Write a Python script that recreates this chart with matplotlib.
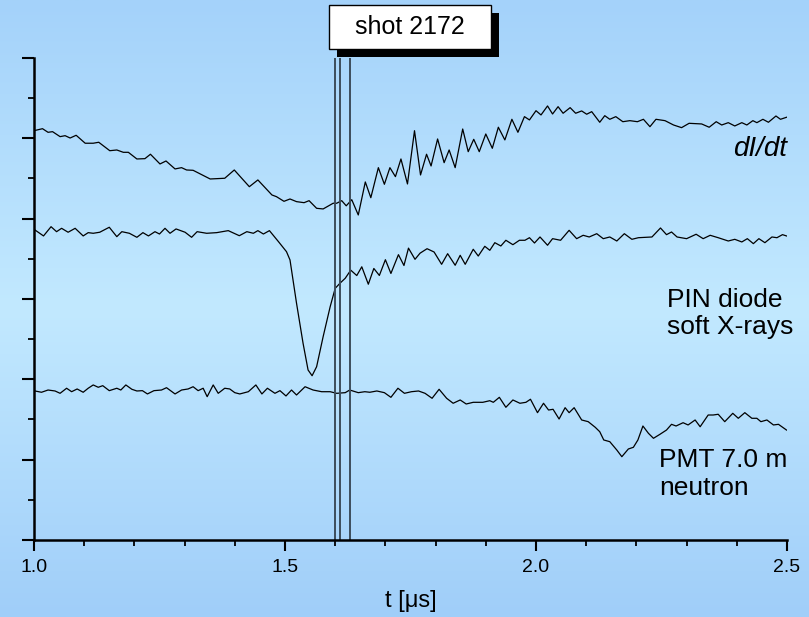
import matplotlib
matplotlib.use("Agg")
from matplotlib import pyplot as plt
from matplotlib.patches import Rectangle
from matplotlib.colors import LinearSegmentedColormap
from matplotlib.ticker import MultipleLocator, FormatStrFormatter
import numpy as np

plt.rcParams["font.family"] = ["Liberation Sans", "DejaVu Sans"]

# dI/dt trace (time in microseconds, signal in axis units)
t_didt = [1.000, 1.017, 1.028, 1.037, 1.052, 1.062, 1.072, 1.084, 1.102, 1.118,
          1.129, 1.151, 1.165, 1.178, 1.188, 1.205, 1.221, 1.232, 1.251, 1.263,
          1.281, 1.294, 1.304, 1.317, 1.351, 1.380, 1.399, 1.429, 1.446, 1.474,
          1.483, 1.498, 1.510, 1.523, 1.538, 1.548, 1.563, 1.576, 1.596, 1.603,
          1.613, 1.622, 1.633, 1.646, 1.660, 1.671, 1.686, 1.698, 1.709, 1.720,
          1.731, 1.744, 1.758, 1.770, 1.782, 1.791, 1.804, 1.817, 1.827, 1.839,
          1.854, 1.865, 1.876, 1.887, 1.900, 1.913, 1.925, 1.938, 1.952, 1.964,
          1.977, 1.987, 2.000, 2.010, 2.023, 2.033, 2.044, 2.054, 2.068, 2.079,
          2.091, 2.101, 2.111, 2.127, 2.137, 2.147, 2.159, 2.173, 2.187, 2.202,
          2.214, 2.227, 2.239, 2.257, 2.274, 2.290, 2.305, 2.330, 2.345, 2.359,
          2.370, 2.383, 2.396, 2.410, 2.420, 2.432, 2.440, 2.452, 2.463, 2.478,
          2.487, 2.499]
y_didt = [5.095, 5.120, 5.075, 5.083, 5.021, 5.033, 5.004, 5.038, 4.939, 4.939,
          4.951, 4.846, 4.855, 4.826, 4.826, 4.743, 4.747, 4.802, 4.681, 4.718,
          4.619, 4.635, 4.606, 4.602, 4.494, 4.503, 4.606, 4.398, 4.482, 4.295,
          4.274, 4.216, 4.245, 4.212, 4.199, 4.224, 4.129, 4.121, 4.192, 4.192,
          4.224, 4.160, 4.236, 4.046, 4.457, 4.261, 4.635, 4.428, 4.635, 4.523,
          4.743, 4.432, 5.095, 4.544, 4.802, 4.656, 4.992, 4.697, 4.855, 4.635,
          5.116, 4.834, 4.988, 4.834, 5.054, 4.876, 5.138, 4.980, 5.237, 5.075,
          5.270, 5.229, 5.344, 5.291, 5.403, 5.303, 5.394, 5.312, 5.382, 5.312,
          5.341, 5.300, 5.332, 5.200, 5.282, 5.237, 5.270, 5.207, 5.220, 5.207,
          5.237, 5.145, 5.237, 5.220, 5.166, 5.133, 5.187, 5.179, 5.138, 5.207,
          5.166, 5.195, 5.154, 5.195, 5.166, 5.220, 5.195, 5.237, 5.200, 5.278,
          5.237, 5.262]

# PIN diode soft X-ray trace
t_pin = [1.002, 1.019, 1.034, 1.045, 1.055, 1.068, 1.082, 1.098, 1.108, 1.118,
         1.131, 1.150, 1.165, 1.175, 1.190, 1.205, 1.217, 1.228, 1.241, 1.250,
         1.261, 1.271, 1.283, 1.301, 1.314, 1.325, 1.344, 1.364, 1.387, 1.409,
         1.424, 1.437, 1.446, 1.457, 1.469, 1.487, 1.503, 1.510, 1.523, 1.536,
         1.546, 1.554, 1.563, 1.576, 1.590, 1.600, 1.610, 1.620, 1.631, 1.643,
         1.653, 1.666, 1.677, 1.688, 1.700, 1.711, 1.726, 1.737, 1.746, 1.759,
         1.769, 1.783, 1.797, 1.812, 1.824, 1.839, 1.849, 1.859, 1.875, 1.885,
         1.898, 1.908, 1.918, 1.930, 1.940, 1.954, 1.967, 1.978, 1.987, 1.997,
         2.008, 2.023, 2.033, 2.049, 2.066, 2.081, 2.094, 2.106, 2.121, 2.134,
         2.147, 2.161, 2.176, 2.191, 2.204, 2.231, 2.248, 2.260, 2.270, 2.281,
         2.300, 2.319, 2.333, 2.347, 2.363, 2.383, 2.396, 2.410, 2.421, 2.433,
         2.444, 2.456, 2.470, 2.480, 2.491, 2.499]
y_pin = [3.859, 3.785, 3.900, 3.838, 3.880, 3.831, 3.880, 3.785, 3.826, 3.818,
         3.831, 3.893, 3.776, 3.838, 3.818, 3.768, 3.826, 3.785, 3.838, 3.809,
         3.880, 3.818, 3.872, 3.831, 3.768, 3.838, 3.818, 3.826, 3.851, 3.788,
         3.838, 3.818, 3.851, 3.809, 3.851, 3.714, 3.589, 3.486, 2.947, 2.449,
         2.116, 2.045, 2.157, 2.531, 2.904, 3.133, 3.199, 3.258, 3.359, 3.292,
         3.401, 3.184, 3.380, 3.293, 3.489, 3.318, 3.552, 3.417, 3.633, 3.494,
         3.570, 3.626, 3.585, 3.432, 3.564, 3.420, 3.544, 3.432, 3.619, 3.535,
         3.656, 3.606, 3.701, 3.660, 3.731, 3.676, 3.731, 3.731, 3.763, 3.697,
         3.772, 3.669, 3.751, 3.731, 3.855, 3.751, 3.793, 3.772, 3.813, 3.751,
         3.772, 3.722, 3.813, 3.743, 3.763, 3.772, 3.884, 3.801, 3.834, 3.772,
         3.751, 3.806, 3.751, 3.793, 3.763, 3.722, 3.743, 3.710, 3.751, 3.689,
         3.751, 3.701, 3.772, 3.763, 3.801, 3.785]

# PMT neutron trace at 7.0 m
t_pmt = [1.002, 1.015, 1.028, 1.042, 1.052, 1.065, 1.075, 1.086, 1.098, 1.108,
         1.118, 1.128, 1.137, 1.150, 1.165, 1.173, 1.183, 1.195, 1.205, 1.216,
         1.226, 1.239, 1.254, 1.264, 1.281, 1.294, 1.307, 1.317, 1.327, 1.337,
         1.345, 1.357, 1.367, 1.380, 1.390, 1.400, 1.410, 1.427, 1.442, 1.454,
         1.465, 1.480, 1.490, 1.502, 1.513, 1.523, 1.540, 1.556, 1.573, 1.590,
         1.603, 1.620, 1.629, 1.646, 1.659, 1.669, 1.683, 1.698, 1.711, 1.725,
         1.738, 1.752, 1.766, 1.779, 1.793, 1.807, 1.822, 1.835, 1.849, 1.861,
         1.875, 1.894, 1.908, 1.915, 1.927, 1.940, 1.954, 1.968, 1.980, 1.989,
         2.003, 2.015, 2.025, 2.034, 2.046, 2.058, 2.066, 2.076, 2.091, 2.104,
         2.118, 2.127, 2.135, 2.147, 2.161, 2.171, 2.184, 2.194, 2.203, 2.213,
         2.224, 2.234, 2.247, 2.260, 2.270, 2.279, 2.293, 2.303, 2.317, 2.327,
         2.343, 2.353, 2.363, 2.376, 2.392, 2.403, 2.416, 2.430, 2.440, 2.448,
         2.460, 2.473, 2.483, 2.499]
y_pmt = [1.855, 1.839, 1.867, 1.855, 1.826, 1.889, 1.846, 1.880, 1.839, 1.889,
         1.930, 1.901, 1.921, 1.859, 1.889, 1.867, 1.930, 1.876, 1.855, 1.859,
         1.818, 1.859, 1.867, 1.896, 1.818, 1.867, 1.880, 1.908, 1.859, 1.889,
         1.784, 1.930, 1.826, 1.889, 1.880, 1.834, 1.818, 1.846, 1.930, 1.818,
         1.889, 1.826, 1.859, 1.793, 1.867, 1.805, 1.908, 1.867, 1.846, 1.846,
         1.826, 1.834, 1.867, 1.834, 1.846, 1.839, 1.855, 1.834, 1.776, 1.889,
         1.826, 1.846, 1.855, 1.826, 1.764, 1.876, 1.764, 1.702, 1.743, 1.693,
         1.714, 1.714, 1.734, 1.714, 1.776, 1.652, 1.743, 1.702, 1.714, 1.752,
         1.585, 1.702, 1.618, 1.627, 1.506, 1.647, 1.585, 1.647, 1.494, 1.473,
         1.403, 1.348, 1.245, 1.224, 1.120, 1.037, 1.133, 1.154, 1.245, 1.419,
         1.328, 1.266, 1.316, 1.369, 1.440, 1.419, 1.460, 1.432, 1.494, 1.410,
         1.556, 1.556, 1.565, 1.473, 1.577, 1.515, 1.585, 1.515, 1.515, 1.473,
         1.494, 1.432, 1.440, 1.369]

# timing markers
markers = [1.600, 1.610, 1.630]

fig = plt.figure(figsize=(8.09, 6.17), dpi=100)

# light blue background, brighter in the middle
bg = fig.add_axes([0, 0, 1, 1], zorder=-10)
cmap = LinearSegmentedColormap.from_list(
    "bgblue", [(0.0, "#a4d2fa"), (0.5, "#c2e9ff"), (1.0, "#a0cef9")])
bg.imshow(np.linspace(0, 1, 256).reshape(-1, 1), aspect="auto", cmap=cmap,
          extent=[0, 1, 0, 1])
bg.set_axis_off()

ax = fig.add_axes([0.042, 0.1248, 0.9308, 0.7812])
ax.set_facecolor("none")

for t, y in [(t_didt, y_didt), (t_pin, y_pin), (t_pmt, y_pmt)]:
    ax.plot(t, y, color="black", lw=0.9, solid_joinstyle="round")
ax.vlines(markers, 0, 6, colors="#3d4d5b", lw=1.4)

ax.set_xlim(1.0, 2.5)
ax.set_ylim(0, 6)
ax.xaxis.set_major_locator(MultipleLocator(0.5))
ax.xaxis.set_minor_locator(MultipleLocator(0.1))
ax.yaxis.set_major_locator(MultipleLocator(1))
ax.yaxis.set_minor_locator(MultipleLocator(0.5))
ax.xaxis.set_major_formatter(FormatStrFormatter("%.1f"))
ax.set_yticklabels([])
ax.tick_params(which="major", length=8, width=1.5, labelsize=14, pad=6)
ax.tick_params(axis="y", which="major", length=9)
ax.tick_params(which="minor", length=4.5, width=1.3)
for side in ["top", "right"]:
    ax.spines[side].set_visible(False)
for side in ["left", "bottom"]:
    ax.spines[side].set_linewidth(1.8)

ax.set_xlabel("t [\u03bcs]", fontsize=17, labelpad=10)

ax.text(2.5, 4.87, "dI/dt", style="italic", fontsize=20, ha="right", va="center")
ax.text(2.26, 2.82, "PIN diode\nsoft X-rays", fontsize=19, ha="left", va="center",
        linespacing=1.2)
ax.text(2.245, 0.82, "PMT 7.0 m\nneutron", fontsize=19, ha="left", va="center",
        linespacing=1.2)

# title box with drop shadow
fig.add_artist(Rectangle((0.4166, 0.9076), 0.2002, 0.0713, transform=fig.transFigure,
                         facecolor="black", edgecolor="none", zorder=5))
fig.add_artist(Rectangle((0.4067, 0.9206), 0.2002, 0.0713, transform=fig.transFigure,
                         facecolor="white", edgecolor="black", lw=1.0, zorder=6))
fig.text(0.5068, 0.9562, "shot 2172", fontsize=18, ha="center", va="center", zorder=7)

fig.savefig("out.png", dpi=100)
